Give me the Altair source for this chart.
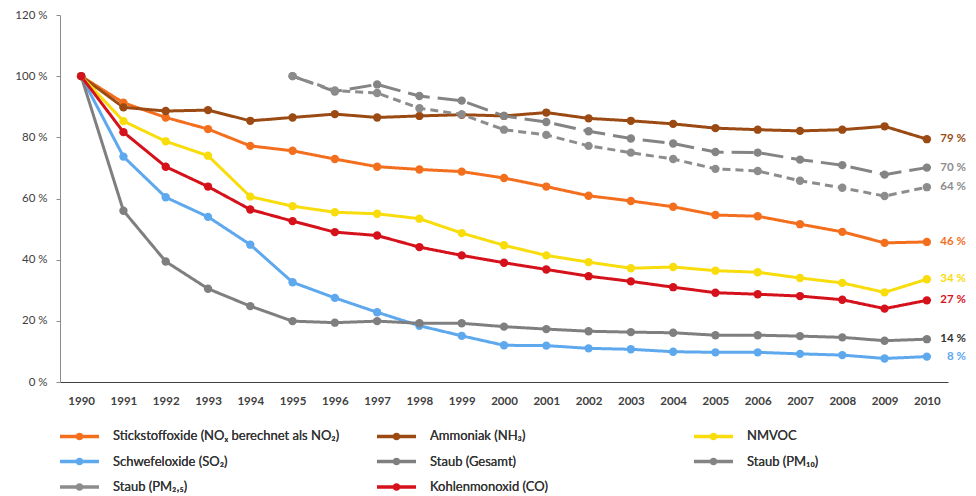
import altair as alt
import pandas as pd

years = list(range(1990, 2011))

series_names = [
    "Stickstoffoxide (NOₓ berechnet als NO₂)",
    "Ammoniak (NH₃)",
    "NMVOC",
    "Schwefeloxide (SO₂)",
    "Staub (Gesamt)",
    "Staub (PM₁₀)",
    "Staub (PM₂,₅)",
    "Kohlenmonoxid (CO)",
]
colors = ["#F36F1E", "#9A4A12", "#F8DC0C", "#5EA8EE", "#7F7F7F", "#848484", "#8C8C8C", "#D5121B"]
dashes = [[1, 0], [1, 0], [1, 0], [1, 0], [1, 0], [22, 8], [8, 5], [1, 0]]

nox = [100, 91.3, 86.5, 82.7, 77.2, 75.6, 72.9, 70.4, 69.5, 68.8, 66.7, 63.9, 60.9, 59.2, 57.3, 54.6, 54.2, 51.6, 49.1, 45.5, 45.8]
nh3 = [100, 89.8, 88.6, 88.9, 85.4, 86.5, 87.6, 86.5, 87.0, 87.4, 87.0, 88.1, 86.2, 85.4, 84.4, 83.0, 82.5, 82.1, 82.5, 83.6, 79.4]
nmvoc = [100, 85.3, 78.7, 74.0, 60.6, 57.5, 55.5, 55.0, 53.4, 48.7, 44.7, 41.4, 39.2, 37.2, 37.6, 36.4, 35.9, 34.0, 32.4, 29.3, 33.6]
so2 = [100, 73.7, 60.4, 54.0, 44.9, 32.6, 27.5, 22.8, 18.4, 15.1, 12.0, 11.9, 11.0, 10.7, 9.9, 9.7, 9.7, 9.2, 8.8, 7.7, 8.3]
staub = [100, 56.0, 39.4, 30.5, 24.8, 19.9, 19.4, 19.9, 19.2, 19.2, 18.1, 17.3, 16.6, 16.3, 16.1, 15.3, 15.3, 15.0, 14.6, 13.5, 14.0]
pm10 = [None] * 5 + [100, 95.0, 97.3, 93.5, 92.0, 87.0, 85.0, 82.0, 79.6, 78.0, 75.2, 75.0, 72.7, 70.9, 67.8, 70.1]
pm25 = [None] * 5 + [100, 95.3, 94.5, 89.5, 87.5, 82.5, 80.8, 77.2, 75.0, 72.9, 69.7, 69.0, 65.8, 63.5, 60.8, 63.7]
co = [100, 81.7, 70.4, 63.9, 56.4, 52.6, 49.0, 47.9, 44.1, 41.4, 39.0, 36.8, 34.6, 32.9, 31.0, 29.2, 28.7, 28.1, 26.9, 24.0, 26.7]

series_values = [nox, nh3, nmvoc, so2, staub, pm10, pm25, co]

end_labels = ["46 %", "79 %", "34 %", "8 %", "14 %", "70 %", "64 %", "27 %"]
end_label_colors = ["#F36F1E", "#9A4A12", "#F8DC0C", "#5EA8EE", "#333333", "#8C8C8C", "#8C8C8C", "#D5121B"]

FONT = "Lato"

rows = []
for name, vals in zip(series_names, series_values):
    for y, v in zip(years, vals):
        if v is not None:
            rows.append({"year": y, "series": name, "value": v})
df = pd.DataFrame(rows)

lab_df = pd.DataFrame({
    "year": [2010] * len(series_names),
    "series": series_names,
    "value": [vals[-1] for vals in series_values],
    "label": end_labels,
    "lc": end_label_colors,
})

x_enc = alt.X(
    "year:O",
    scale=alt.Scale(type="point", padding=0.5),
    axis=alt.Axis(
        title=None, labelAngle=0, ticks=False, domainColor="#404040", domainWidth=1.2,
        labelFont=FONT, labelFontSize=11.5, labelFontWeight="bold", labelColor="#404040",
        labelPadding=13, grid=False,
    ),
)
y_enc = alt.Y(
    "value:Q",
    scale=alt.Scale(domain=[0, 120], nice=False),
    axis=alt.Axis(
        title=None, values=[0, 20, 40, 60, 80, 100, 120], labelExpr="datum.value + ' %'",
        grid=False, domainColor="#8C8C8C", tickColor="#8C8C8C", tickSize=4,
        labelFont=FONT, labelFontSize=11.5, labelColor="#404040", labelPadding=9,
        minExtent=47, maxExtent=47,
    ),
)

legend_symbol = "M-1.5,0H1.5M0.16,0A0.16,0.16 0 1,1 -0.16,0A0.16,0.16 0 1,1 0.16,0"

shared_legend = alt.Legend(
    title=None, orient="none", legendX=4.5, legendY=406, columns=3, direction="horizontal",
    gridAlign="all", columnPadding=30, rowPadding=0.5,
    symbolType=legend_symbol, symbolSize=676, symbolStrokeWidth=3.5,
    labelOffset=18.5, labelFont=FONT, labelFontSize=13, labelColor="#333333",
    labelLimit=400,
)

lines = alt.Chart(df).mark_line(
    strokeWidth=3,
    point=alt.OverlayMarkDef(filled=True, size=70),
).encode(
    x=x_enc,
    y=y_enc,
    color=alt.Color(
        "series:N",
        scale=alt.Scale(domain=series_names, range=colors),
        legend=shared_legend,
    ),
    strokeDash=alt.StrokeDash(
        "series:N",
        scale=alt.Scale(domain=series_names, range=dashes),
        legend=shared_legend,
    ),
)

labels = alt.Chart(lab_df).mark_text(
    align="right", baseline="middle", dx=39, font=FONT, fontSize=11.5, fontWeight="bold",
).encode(
    x=alt.X("year:O"),
    y=alt.Y("value:Q"),
    text="label:N",
    color=alt.Color("lc:N", scale=None, legend=None),
)

chart = alt.layer(lines, labels).resolve_scale(color="independent").properties(
    width=888,
    height=367,
    autosize=alt.AutoSizeParams(type="none"),
    padding={"left": 52, "top": 7, "right": 20, "bottom": 114},
).configure_view(stroke=None)

chart.save("out.html", embed_options={"renderer": "svg", "actions": False})
